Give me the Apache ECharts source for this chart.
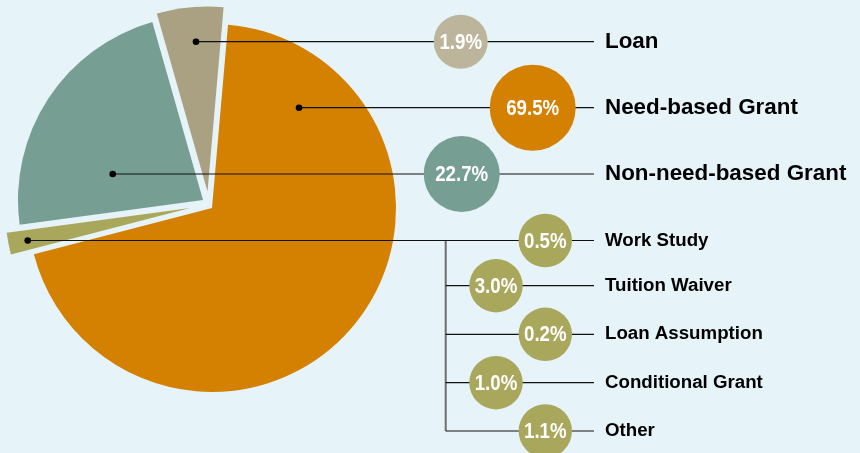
<!DOCTYPE html>
<html>
<head>
<meta charset="utf-8">
<script src="https://cdn.jsdelivr.net/npm/echarts@6/dist/echarts.min.js"></script>
<style>
html,body{margin:0;padding:0;background:#e6f3f8;}
#main{width:860px;height:453px;}
</style>
</head>
<body>
<div id="main"></div>
<script>
// ---- data (slice sizes as drawn in the picture, clockwise from the top) ----
const sliceNames = ['Need-based Grant', 'Other aid types', 'Non-need-based Grant', 'Loan'];
const sliceValues = [69.5, 1.9, 22.7, 5.8];

// ---- callout texts ----
const mainNames = ['Loan', 'Need-based Grant', 'Non-need-based Grant'];
const mainPercents = ['1.9%', '69.5%', '22.7%'];
const otherNames = ['Work Study', 'Tuition Waiver', 'Loan Assumption', 'Conditional Grant', 'Other'];
const otherPercents = ['0.5%', '3.0%', '0.2%', '1.0%', '1.1%'];

// ---- layout & style ----
const BG = '#e6f3f8';
const sliceColors = ['#d48000', '#a9a75c', '#769e92', '#a9a181'];
const sliceCenters = [[212, 208], [190, 208], [203, 200], [207.5, 191.5]];
const sliceRadius = [184, 185, 185, 185];
const START = 85;

const mainRowY = [41.7, 107.7, 174];
const mainCircleX = [460.7, 532.7, 461.7];
const mainCircleR = [27, 43, 38];
const mainCircleColor = ['#bcb59b', '#d48000', '#769e92'];
const mainDotX = [196, 299, 112.7];

const otherRowY = [240.5, 285.7, 334.3, 382.7, 431];
const otherCircleX = [545.3, 496, 545.3, 496, 545.3];
const otherCircleR = 26.7;
const otherColor = '#a9a75c';
const otherDotX = 27.7;
const bracketX = 445.7;
const lineEndX = 594;
const labelX = 605;

const chart = echarts.init(document.getElementById('main'));

const series = sliceNames.map(function (n, i) {
  return {
    type: 'pie',
    center: sliceCenters[i],
    radius: [0, sliceRadius[i]],
    startAngle: START,
    clockwise: true,
    padAngle: 0,
    minAngle: 0,
    silent: true,
    animation: false,
    z: 1,
    label: { show: false },
    labelLine: { show: false },
    emphasis: { disabled: true },
    data: sliceNames.map(function (name, j) {
      return {
        name: name,
        value: sliceValues[j],
        itemStyle: {
          color: j === i ? sliceColors[i] : 'rgba(0,0,0,0)',
          borderWidth: 0,
          borderRadius: 0
        }
      };
    })
  };
});

const g = [];
const LINE = { stroke: '#111', lineWidth: 1.2 };
function hline(x1, x2, y, style) {
  g.push({ type: 'line', z: 10, silent: true, shape: { x1: x1, y1: y, x2: x2, y2: y }, style: style || LINE });
}
function dot(x, y) {
  g.push({ type: 'circle', z: 12, silent: true, shape: { cx: x, cy: y, r: 3.3 }, style: { fill: '#000' } });
}
function bubble(x, y, r, color, txt) {
  g.push({ type: 'circle', z: 20, silent: true, shape: { cx: x, cy: y, r: r }, style: { fill: color } });
  g.push({
    type: 'text', z: 21, silent: true, x: x, y: y + 1, scaleX: 0.85,
    style: { text: txt, fill: '#fff', font: 'bold 22px "Liberation Sans", Arial, sans-serif', textAlign: 'center', textVerticalAlign: 'middle' }
  });
}
function label(y, txt, size) {
  g.push({
    type: 'text', z: 21, silent: true, x: labelX, y: y,
    style: { text: txt, fill: '#000', font: 'bold ' + size + 'px "Liberation Sans", Arial, sans-serif', textAlign: 'left', textVerticalAlign: 'middle' }
  });
}

mainNames.forEach(function (name, i) {
  hline(mainDotX[i], lineEndX, mainRowY[i]);
  dot(mainDotX[i], mainRowY[i]);
  bubble(mainCircleX[i], mainRowY[i], mainCircleR[i], mainCircleColor[i], mainPercents[i]);
  label(mainRowY[i], name, 22.4);
});

hline(otherDotX, lineEndX, otherRowY[0]);
dot(otherDotX, otherRowY[0]);
g.push({ type: 'line', z: 9, silent: true, shape: { x1: bracketX, y1: otherRowY[0], x2: bracketX, y2: otherRowY[otherRowY.length - 1] }, style: { stroke: '#6e6e6e', lineWidth: 2 } });
otherNames.forEach(function (name, i) {
  if (i > 0) hline(bracketX, lineEndX, otherRowY[i]);
  bubble(otherCircleX[i], otherRowY[i], otherCircleR, otherColor, otherPercents[i]);
  label(otherRowY[i], name, 18.7);
});

chart.setOption({
  backgroundColor: BG,
  animation: false,
  series: series,
  graphic: { elements: g }
});
</script>
</body>
</html>
